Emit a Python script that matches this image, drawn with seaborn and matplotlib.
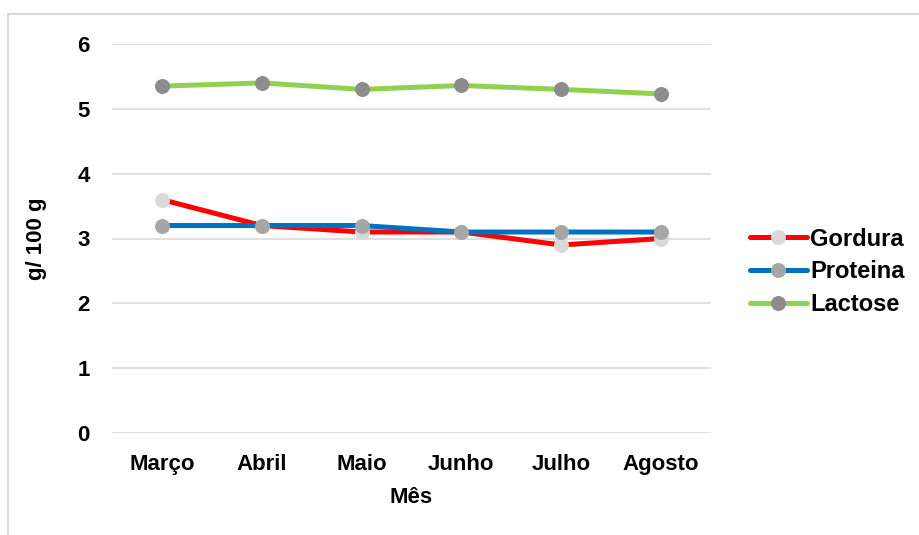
import matplotlib
matplotlib.use("Agg")
import matplotlib.pyplot as plt
import seaborn as sns
from matplotlib.patches import Rectangle

meses = ["Março", "Abril", "Maio", "Junho", "Julho", "Agosto"]
gordura = [3.6, 3.2, 3.1, 3.1, 2.9, 3.0]
proteina = [3.2, 3.2, 3.2, 3.1, 3.1, 3.1]
lactose = [5.35, 5.40, 5.30, 5.36, 5.30, 5.23]

sns.set_theme(style="white")
plt.rcParams['font.family'] = ['Liberation Sans', 'DejaVu Sans']
plt.rcParams['font.weight'] = 'bold'
plt.rcParams['text.color'] = 'black'
plt.rcParams['axes.labelcolor'] = 'black'
plt.rcParams['xtick.color'] = 'black'
plt.rcParams['ytick.color'] = 'black'

fig = plt.figure(figsize=(9.19, 5.35), dpi=100)
ax = fig.add_axes([112 / 919, 1 - 433 / 535, 599 / 919, 389 / 535])

series = [
    ("Gordura", gordura, "#ff0000", "#d9d9d9"),
    ("Proteina", proteina, "#0070c0", "#a6a6a6"),
    ("Lactose", lactose, "#92d050", "#8c8c8c"),
]
for nome, vals, cor, cor_marker in series:
    sns.lineplot(x=meses, y=vals, ax=ax, sort=False, color=cor, linewidth=3.6,
                 marker="o", markersize=10, markerfacecolor=cor_marker,
                 markeredgecolor=cor_marker, label=nome)

ax.set_xlim(-0.5, 5.5)
ax.set_ylim(0, 6)
ax.set_yticks(range(0, 7))
ax.grid(axis="y", color="#d9d9d9", linewidth=1.2)
ax.set_axisbelow(True)
for s in ax.spines.values():
    s.set_visible(False)
ax.tick_params(axis="both", length=0, labelsize=16, labelcolor="black")
ax.tick_params(axis="y", pad=16)
ax.tick_params(axis="x", pad=15)
for lbl in ax.get_xticklabels() + ax.get_yticklabels():
    lbl.set_fontweight("bold")

ax.set_xlabel("Mês", fontsize=16, fontweight="bold", labelpad=9, color="black")
ax.set_ylabel("g/ 100 g", fontsize=16, fontweight="bold", labelpad=22, color="black")

leg = ax.legend(loc="center left", bbox_to_anchor=(750 / 919, 1 - 272 / 535),
                bbox_transform=fig.transFigure, frameon=False,
                handlelength=2.4, handletextpad=0.15, labelspacing=0.42,
                borderpad=0, borderaxespad=0,
                prop={"weight": "bold", "size": 17})
for t in leg.get_texts():
    t.set_color("black")

fig.patches.append(Rectangle((8 / 919, -0.05), 1.0, 1 - 14 / 535 + 0.05,
                             transform=fig.transFigure, fill=False,
                             edgecolor="#d9d9d9", linewidth=1.5))

fig.savefig("out.png", dpi=100)
